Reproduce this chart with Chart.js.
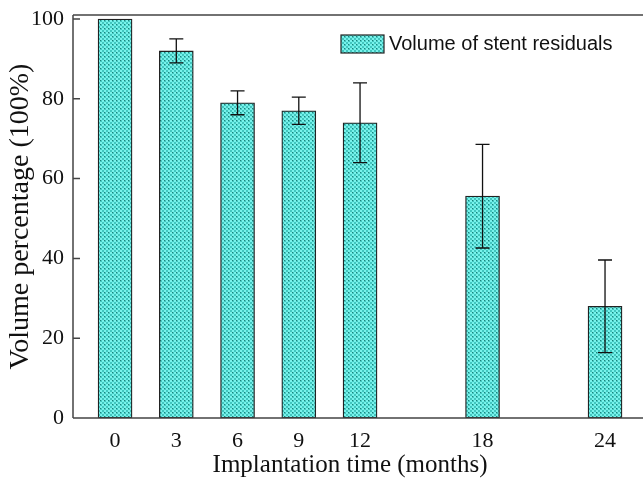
<!DOCTYPE html>
<html>
<head>
<meta charset="utf-8">
<script src="https://cdn.jsdelivr.net/npm/chart.js@4.4.1/dist/chart.umd.min.js"></script>
<style>
  html, body { margin: 0; padding: 0; background: #fff; overflow: hidden; }
  #wrap { width: 643px; height: 478px; }
</style>
</head>
<body>
<div id="wrap"><canvas id="chart"></canvas></div>
<script>
// Data
const months = [0, 3, 6, 9, 12, 18, 24];
const volumes = [100, 92, 79, 77, 74, 55.6, 28];
const errors = [0, 3, 3, 3.4, 10, 13, 11.6];
const xTicks = [0, 3, 6, 9, 12, 18, 24];
const yTicks = [0, 20, 40, 60, 80, 100];
const xTitle = 'Implantation time (months)';

const serif = '"Liberation Serif", "DejaVu Serif", serif';

// Cross-hatch fill like the original
function makePattern() {
  const c = document.createElement('canvas');
  c.width = 4;
  c.height = 4;
  const g = c.getContext('2d');
  g.fillStyle = '#78f2eb';
  g.fillRect(0, 0, 4, 4);
  g.fillStyle = '#42c6bf';
  g.fillRect(0, 0, 2, 2);
  g.fillRect(2, 2, 2, 2);
  g.fillStyle = '#22807a';
  g.fillRect(0, 0, 1, 1);
  return g.createPattern(c, 'repeat');
}
const hatch = makePattern();

// Error bars, inward y ticks, frame lines, x title and legend
const extras = {
  id: 'extras',
  afterDatasetsDraw(chart) {
    const ctx = chart.ctx;
    const xs = chart.scales.x, ys = chart.scales.y;
    ctx.save();
    ctx.strokeStyle = '#111';
    ctx.lineWidth = 1.3;
    months.forEach((m, i) => {
      if (!errors[i]) return;
      const px = xs.getPixelForValue(m);
      const top = ys.getPixelForValue(volumes[i] + errors[i]);
      const bot = ys.getPixelForValue(volumes[i] - errors[i]);
      ctx.beginPath();
      ctx.moveTo(px, top); ctx.lineTo(px, bot);
      ctx.moveTo(px - 7, top); ctx.lineTo(px + 7, top);
      ctx.moveTo(px - 7, bot); ctx.lineTo(px + 7, bot);
      ctx.stroke();
    });
    ctx.restore();
  },
  afterDraw(chart) {
    const ctx = chart.ctx;
    const a = chart.chartArea;
    const xs = chart.scales.x, ys = chart.scales.y;
    ctx.save();
    ctx.strokeStyle = '#444';
    ctx.lineWidth = 1.5;
    ctx.beginPath();
    ctx.moveTo(a.left, a.top); ctx.lineTo(a.right, a.top);
    ctx.moveTo(a.left, a.top); ctx.lineTo(a.left, a.bottom);
    ctx.moveTo(a.left, a.bottom); ctx.lineTo(a.right, a.bottom);
    yTicks.forEach(v => {
      const py = ys.getPixelForValue(v);
      ctx.moveTo(a.left, py); ctx.lineTo(a.left + 7, py);
    });
    ctx.stroke();

    // x axis title, centred under the ticks 12 months
    ctx.fillStyle = '#111';
    ctx.font = '25px ' + serif;
    ctx.textAlign = 'center';
    ctx.textBaseline = 'middle';
    ctx.fillText(xTitle, xs.getPixelForValue(12) - 10, a.bottom + 47);

    // legend
    const ds = chart.data.datasets[0];
    const bx = 341, by = 35, bw = 43, bh = 18;
    ctx.fillStyle = ds.backgroundColor;
    ctx.fillRect(bx, by, bw, bh);
    ctx.strokeStyle = '#222';
    ctx.lineWidth = 1.2;
    ctx.strokeRect(bx, by, bw, bh);
    ctx.fillStyle = '#111';
    ctx.font = '20px "Liberation Sans", Arial, sans-serif';
    ctx.textAlign = 'left';
    ctx.fillText(ds.label, bx + bw + 5, by + bh / 2);
    ctx.restore();
  }
};

new Chart(document.getElementById('chart'), {
  type: 'bar',
  data: {
    datasets: [{
      label: 'Volume of stent residuals',
      data: months.map((m, i) => ({ x: m, y: volumes[i] })),
      backgroundColor: hatch,
      borderColor: '#222',
      borderWidth: 1.3,
      borderSkipped: false,
      barThickness: 34
    }]
  },
  options: {
    responsive: true,
    maintainAspectRatio: false,
    animation: false,
    layout: { padding: { top: 15, right: 0, left: 0, bottom: 0 } },
    plugins: {
      legend: { display: false },
      tooltip: { enabled: false }
    },
    scales: {
      x: {
        type: 'linear',
        offset: false,
        min: -2.06,
        max: 25.86,
        afterFit(s) { s.height = 60; s.paddingLeft = 0; s.paddingRight = 0; },
        afterBuildTicks(s) { s.ticks = xTicks.map(v => ({ value: v })); },
        grid: { display: false, drawTicks: false },
        border: { display: false },
        ticks: {
          color: '#111',
          padding: 10,
          maxRotation: 0,
          autoSkip: false,
          font: { family: serif, size: 22 }
        }
      },
      y: {
        min: 0,
        max: 101,
        afterFit(s) { s.width = 73; s.paddingTop = 0; s.paddingBottom = 0; },
        afterBuildTicks(s) { s.ticks = yTicks.map(v => ({ value: v })); },
        grid: { display: false, drawTicks: false },
        border: { display: false },
        ticks: {
          color: '#111',
          padding: 9,
          font: { family: serif, size: 22 }
        },
        title: {
          display: true,
          text: 'Volume percentage (100%)',
          color: '#111',
          padding: { top: 4, bottom: 0 },
          font: { family: serif, size: 28 }
        }
      }
    }
  },
  plugins: [extras]
});
</script>
</body>
</html>
